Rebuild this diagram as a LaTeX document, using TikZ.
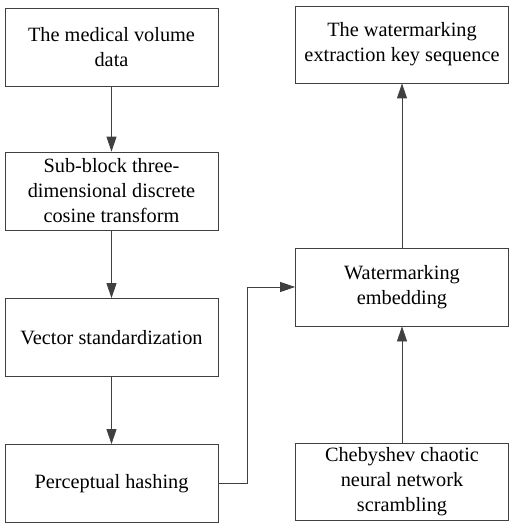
\documentclass[tikz,border=0pt]{standalone}
\usepackage{fontspec}
\setmainfont{Liberation Serif}
\usetikzlibrary{arrows.meta, calc, positioning}

\begin{document}
\begin{tikzpicture}[x=1pt, y=-1pt,% pixel units, y downwards
         > = {Triangle[length=15pt, width=10pt]},
box/.style = {draw=black!75, thick, fill=white,
              minimum width=213pt, minimum height=78pt,
              inner sep=2pt, align=center,
              font=\fontsize{20.3}{25}\selectfont},
 to/.style = {draw=black!75, thick, ->}
                        ]
	% frame of the picture
	\useasboundingbox (0,0) rectangle (509,524);

	% left column
	\node[box] (vol)  at (111.5,47)    {The medical volume\\data};
	\node[box] (dct)  at (111.5,191)   {Sub-block three-\\dimensional discrete\\cosine transform};
	\node[box] (std)  at (111.5,337.5) {Vector standardization};
	\node[box] (hash) at (111.5,483.5) {Perceptual hashing};

	% right column
	\node[box, minimum height=77pt] (key)   at (402,44.5)  {The watermarking\\extraction key sequence};
	\node[box]                      (embed) at (402,287)   {Watermarking\\embedding};
	\node[box, minimum height=77pt] (cheb)  at (402,481.5) {Chebyshev chaotic\\neural network\\scrambling};

	\coordinate (bend) at (247,0);

	\draw[to] (vol) -- (dct);
	\draw[to] (dct) -- (std);
	\draw[to] (std) -- (hash);
	\draw[to] (hash.east) -| (bend |- embed.west) -- (embed.west);
	\draw[to] (cheb) -- (embed);
	\draw[to] (embed) -- (key);
\end{tikzpicture}
\end{document}
